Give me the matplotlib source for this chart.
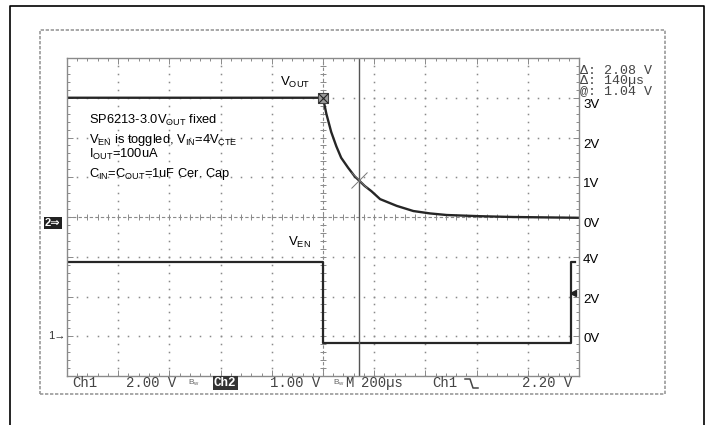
import numpy as np
import matplotlib.pyplot as plt
from matplotlib.lines import Line2D
from matplotlib.patches import Rectangle

plt.rcParams['font.family'] = ['Liberation Sans', 'DejaVu Sans']
plt.rcParams['mathtext.fontset'] = 'custom'
plt.rcParams['mathtext.rm'] = 'Liberation Sans'
plt.rcParams['mathtext.it'] = 'Liberation Sans:italic'

# scope settings
TIME_PER_DIV = 200.0      # us
CH1_V_PER_DIV = 2.0       # V_EN
CH2_V_PER_DIV = 1.0       # V_OUT
CH1_GND_DIV = 1.0
CH2_GND_DIV = 4.0
CURSOR_T = 140.0
TRIG_LEVEL = 2.2

# V_OUT trace (ch2)
vout_t = [-1000, 0, 13, 32, 52, 71, 98, 124, 139, 163, 189, 223, 288, 353, 418, 483, 613, 742, 1000]
vout_v = [3.0, 3.0, 2.6, 2.14, 1.78, 1.49, 1.24, 1.02, 0.93, 0.78, 0.65, 0.45, 0.28, 0.15, 0.09, 0.05, 0.02, 0.0, -0.02]

# V_EN trace (ch1)
ven_t = [-1000, 0, 0, 969, 969, 985]
ven_v = [3.72, 3.72, -0.35, -0.35, 3.72, 3.72]

ch2_labels = [3, 2, 1, 0]
ch1_labels = [4, 2, 0]

readout = ["\u0394: 2.08 V", "\u0394: 140\u00b5s", "@: 1.04 V"]
notes = ["SP6213-3.0V$_{\\rm OUT}$ fixed",
         "V$_{\\rm EN}$ is toggled, V$_{\\rm IN}$=4V$_{\\rm CTE}$",
         "I$_{\\rm OUT}$=100uA",
         "C$_{\\rm IN}$=C$_{\\rm OUT}$=1uF Cer. Cap"]

W, H = 712, 425


def fx(x):
    return x / W


def fy(y):
    return 1 - y / H


def ch1(v):
    return CH1_GND_DIV + np.asarray(v) / CH1_V_PER_DIV


def ch2(v):
    return CH2_GND_DIV + np.asarray(v) / CH2_V_PER_DIV


fig = plt.figure(figsize=(W / 100, H / 100), dpi=100)

# outer black frame (open at the bottom)
fig.add_artist(Line2D([fx(10), fx(10), fx(704), fx(704)], [0, fy(6), fy(6), 0],
                      transform=fig.transFigure, color='black', lw=1.2))
# scope screen frame
fig.add_artist(Rectangle((fx(40), fy(394)), fx(665) - fx(40), fy(30) - fy(394),
                         transform=fig.transFigure, fill=False, ec='#9a9a9a', lw=1.2, ls=(0, (2, 1))))

ax = fig.add_axes([fx(67), fy(376), fx(579) - fx(67), fy(58) - fy(376)])
ax.set_xlim(-5 * TIME_PER_DIV, 5 * TIME_PER_DIV)
ax.set_ylim(0, 8)

# graticule
gcol = '#8a8a8a'
minor_t = np.arange(-1000, 1001, 40)
minor_d = np.arange(0, 8.01, 0.2)
for d in range(1, 8):
    if d != 4:
        ax.plot(minor_t, np.full(minor_t.size, d), ls='none', marker='s', ms=1.1, mec='none', mfc=gcol)
for t in range(-800, 801, 200):
    if t != 0:
        ax.plot(np.full(minor_d.size, t), minor_d, ls='none', marker='s', ms=1.1, mec='none', mfc=gcol)
ax.axhline(4, color=gcol, lw=0.8, ls=(0, (3, 2)))
ax.axvline(0, color=gcol, lw=0.8, ls=(0, (3, 2)))
ax.plot(minor_t, np.full(minor_t.size, 4), ls='none', marker='|', ms=4, mew=0.7, color=gcol)
ax.plot(np.full(minor_d.size, 0), minor_d, ls='none', marker='_', ms=4, mew=0.7, color=gcol)

ax.set_xticks(np.arange(-1000, 1001, 200))
ax.set_xticks(minor_t, minor=True)
ax.set_yticks(np.arange(0, 9, 1))
ax.set_yticks(minor_d, minor=True)
ax.tick_params(which='both', direction='in', color=gcol, labelbottom=False, labelleft=False,
               top=True, right=True, width=0.7)
ax.tick_params(which='major', length=4)
ax.tick_params(which='minor', length=2.5)
for s in ax.spines.values():
    s.set_color(gcol)
    s.set_linewidth(1.0)
    s.set_linestyle((0, (1, 1)))

# traces
tcol = '#262626'
ax.plot(vout_t, ch2(vout_v), color=tcol, lw=1.7, solid_joinstyle='round')
ax.plot(ven_t, ch1(ven_v), color=tcol, lw=1.6)

# cursors
ax.axvline(CURSOR_T, color='#555555', lw=1.0)
ax.plot([0], ch2([vout_v[1]]), marker='s', ms=7, mfc='#9a9a9a', mec='#444444', mew=0.8)
ax.plot([0], ch2([vout_v[1]]), marker='x', ms=7, color='#222222', mew=0.8)
ax.plot([CURSOR_T], ch2([np.interp(CURSOR_T, vout_t, vout_v)]), marker='x', ms=11, color='#777777', mew=0.7)

# trigger level marker
ax.plot([975], ch1([TRIG_LEVEL]), marker='<', ms=4, color='#222222')

# trace names and notes
ax.text(-168, ch2(3.0) + 0.2, "V$_{\\rm OUT}$", fontsize=9.5, ha='left', va='bottom')
ax.text(-137, ch1(3.72) + 0.3, "V$_{\\rm EN}$", fontsize=9.5, ha='left', va='bottom')
for i, s in enumerate(notes):
    fig.text(fx(89), fy([124, 143, 158, 177][i]), s, fontsize=9.3, ha='left', va='baseline')

# right side voltage labels
for v in ch2_labels:
    y = ax.transData.transform((0, ch2(v) - 0.18))[1]
    fig.text(fx(583), y / H, f"{v}V", fontsize=9.5, ha='left', va='center')
for v in ch1_labels:
    y = ax.transData.transform((0, ch1(v) - 0.08))[1]
    fig.text(fx(583), y / H, f"{v}V", fontsize=9.5, ha='left', va='center')

# cursor readout
fig.text(fx(580), fy(81), "\n".join(readout), fontsize=9.6, family='Liberation Mono',
         color='#444444', ha='left', va='center', linespacing=0.78)

# channel ground markers
fig.text(fx(45), fy(223), "2\u21d2", fontsize=8, color='white', weight='bold', ha='left', va='center',
         bbox=dict(boxstyle='square,pad=0.12', fc='#222222', ec='none'))
fig.text(fx(48), fy(336), "1\u2192", fontsize=8, color='#333333', ha='left', va='center')

# bottom status line
mono = dict(family='Liberation Mono', fontsize=10, color='#444444', va='center', ha='left')
fig.text(fx(72), fy(383), "Ch1", **mono)
fig.text(fx(126), fy(383), "2.00 V", **mono)
fig.text(fx(188), fy(383), "B$_{\\rm w}$", fontsize=6, color='#666666', va='center', ha='left')
fig.text(fx(214), fy(383), "Ch2", family='Liberation Mono', fontsize=9, color='white', weight='bold',
         va='center', ha='left', bbox=dict(boxstyle='square,pad=0.1', fc='#333333', ec='none'))
fig.text(fx(270), fy(383), "1.00 V", **mono)
fig.text(fx(333), fy(383), "B$_{\\rm w}$", fontsize=6, color='#666666', va='center', ha='left')
fig.text(fx(345), fy(383), "M", **mono)
fig.text(fx(361), fy(383), "200\u00b5s", **mono)
fig.text(fx(432), fy(383), "Ch1", **mono)
fig.add_artist(Line2D([fx(465), fx(470), fx(473), fx(478)], [fy(379), fy(379), fy(388), fy(388)],
                      transform=fig.transFigure, color='#444444', lw=1.1))
fig.text(fx(522), fy(383), "2.20 V", **mono)

fig.savefig('out.png', dpi=100)
